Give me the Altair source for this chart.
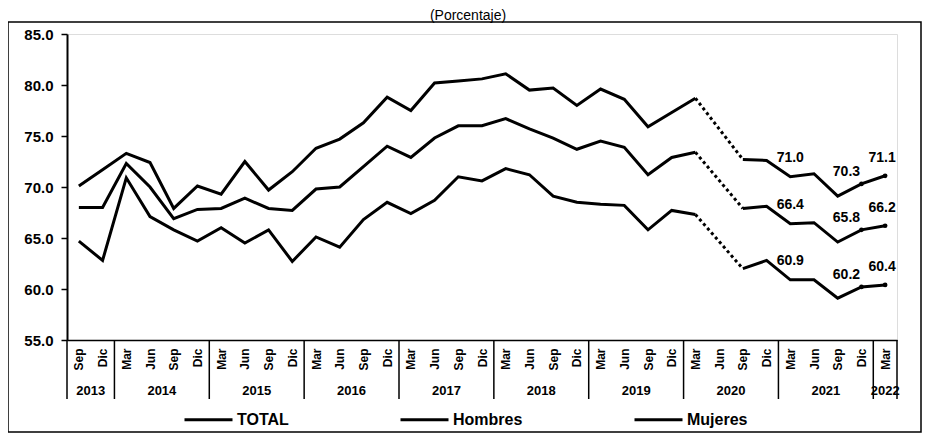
import json
import altair as alt
import pandas as pd

# ---- data ----
meses = ["Sep", "Dic",
         "Mar", "Jun", "Sep", "Dic",
         "Mar", "Jun", "Sep", "Dic",
         "Mar", "Jun", "Sep", "Dic",
         "Mar", "Jun", "Sep", "Dic",
         "Mar", "Jun", "Sep", "Dic",
         "Mar", "Jun", "Sep", "Dic",
         "Mar", "Jun", "Sep", "Dic",
         "Mar", "Jun", "Sep", "Dic",
         "Mar"]
anios = ["2013", "2013",
         "2014", "2014", "2014", "2014",
         "2015", "2015", "2015", "2015",
         "2016", "2016", "2016", "2016",
         "2017", "2017", "2017", "2017",
         "2018", "2018", "2018", "2018",
         "2019", "2019", "2019", "2019",
         "2020", "2020", "2020", "2020",
         "2021", "2021", "2021", "2021",
         "2022"]

total = [68.0, 68.0, 72.3, 70.0, 66.9, 67.8, 67.9, 68.9, 67.9, 67.7,
         69.8, 70.0, 72.0, 74.0, 72.9, 74.8, 76.0, 76.0, 76.7, 75.7,
         74.8, 73.7, 74.5, 73.9, 71.2, 72.9, 73.4, None, 67.9, 68.1,
         66.4, 66.5, 64.6, 65.8, 66.2]
hombres = [70.1, 71.7, 73.3, 72.4, 67.9, 70.1, 69.3, 72.5, 69.7, 71.5,
           73.8, 74.7, 76.3, 78.8, 77.5, 80.2, 80.4, 80.6, 81.1, 79.5,
           79.7, 78.0, 79.6, 78.6, 75.9, 77.3, 78.7, None, 72.7, 72.6,
           71.0, 71.3, 69.1, 70.3, 71.1]
mujeres = [64.7, 62.8, 70.9, 67.1, 65.8, 64.7, 66.0, 64.5, 65.8, 62.7,
           65.1, 64.1, 66.8, 68.5, 67.4, 68.7, 71.0, 70.6, 71.8, 71.2,
           69.1, 68.5, 68.3, 68.2, 65.8, 67.7, 67.3, None, 62.0, 62.8,
           60.9, 60.9, 59.1, 60.2, 60.4]

series_names = ["TOTAL", "Hombres", "Mujeres"]
gap_idx = 27          # Jun 2020: no data, bridged by a dotted segment
label_idx = [30, 33, 34]

# ---- tables built from the arrays ----
rows = []
for name, vals in zip(series_names, [total, hombres, mujeres]):
    for i, v in enumerate(vals):
        if v is None:
            continue
        rows.append({"serie": name, "idx": i, "valor": v,
                     "tramo": "a" if i < gap_idx else "b"})
df = pd.DataFrame(rows)

yr = pd.DataFrame({"anio": anios, "idx": range(len(anios))})
years_df = yr.groupby("anio", as_index=False)["idx"].mean()

seps = [-0.5] + [i - 0.5 for i in range(1, len(anios)) if anios[i] != anios[i - 1]] + [len(anios) - 0.5]
seps_df = pd.DataFrame({"pos": seps})

W, H = 830, 306
FONT = "Liberation Sans"
BLACK = "#000000"

xscale = alt.Scale(domain=[-0.5, len(meses) - 0.5], nice=False, zero=False)
yscale = alt.Scale(domain=[55, 85], nice=False, zero=False)

x_axis = alt.Axis(values=list(range(len(meses))), labelExpr=f"{json.dumps(meses)}[datum.value]",
                  labelAngle=270, ticks=False, grid=False, title=None,
                  labelFontSize=12, labelFontWeight="bold", labelPadding=8,
                  labelOverlap=False, labelFlush=False, labelBound=False,
                  domainColor=BLACK, domainWidth=1.5, labelColor=BLACK, labelFont=FONT)
y_axis = alt.Axis(values=[55, 60, 65, 70, 75, 80, 85], format=".1f", title=None, grid=False,
                  labelFontSize=15, labelFontWeight="bold", labelPadding=8, tickSize=6,
                  tickWidth=1.5, tickColor=BLACK, domainColor=BLACK, domainWidth=2,
                  labelColor=BLACK, labelFont=FONT)

color = alt.Color("serie:N", scale=alt.Scale(domain=series_names, range=[BLACK, BLACK, BLACK]),
                  legend=alt.Legend(title=None, orient="none", direction="horizontal",
                                    legendX=116, legendY=360, symbolType="stroke",
                                    symbolSize=2304, symbolStrokeWidth=3, symbolStrokeColor=BLACK,
                                    labelFontSize=16, labelFontWeight="bold", labelFont=FONT,
                                    labelColor=BLACK, labelOffset=3, columnPadding=105, padding=0))

XE = alt.X("idx:Q", scale=xscale, axis=x_axis)
YE = alt.Y("valor:Q", scale=yscale, axis=y_axis)

base = alt.Chart(df)

lines = base.mark_line(strokeWidth=3).encode(
    x=XE, y=YE, color=color, detail="tramo:N", order="idx:Q",
)

dotted = base.transform_filter(
    alt.FieldOneOfPredicate(field="idx", oneOf=[gap_idx - 1, gap_idx + 1])
).mark_line(strokeWidth=3, strokeDash=[3, 3], color=BLACK).encode(
    x=XE, y=YE, detail="serie:N",
)

markers = base.transform_filter(
    alt.FieldOneOfPredicate(field="idx", oneOf=[33, 34])
).mark_point(filled=True, size=22, color=BLACK, opacity=1).encode(
    x=XE, y=YE,
)

def label_layer(i, dx, dy):
    return base.transform_filter(alt.datum.idx == i).mark_text(
        dx=dx, dy=dy, font=FONT, fontSize=14, fontWeight="bold", color=BLACK
    ).encode(
        x=XE, y=YE,
        text=alt.Text("valor:Q", format=".1f"),
    )

labels = [label_layer(label_idx[0], 0, -19),
          label_layer(label_idx[1], -15, -12),
          label_layer(label_idx[2], -3, -18)]

years = alt.Chart(years_df).mark_text(font=FONT, fontSize=13, fontWeight="bold", color=BLACK,
                                      baseline="middle").encode(
    x=XE,
    y=alt.value(H + 51),
    text="anio:N",
)

separators = alt.Chart(seps_df).mark_rule(color=BLACK, strokeWidth=1.5).encode(
    x=alt.X("pos:Q", scale=xscale, axis=x_axis),
    y=alt.value(H),
    y2=alt.value(H + 59),
)

one = pd.DataFrame({"k": [0]})
frame = alt.Chart(one).mark_rect(fill="transparent", stroke=BLACK, strokeWidth=1.5).encode(
    x=alt.value(-59), x2=alt.value(854), y=alt.value(-12), y2=alt.value(398)
)
title = alt.Chart(one).mark_text(font=FONT, fontSize=14, color=BLACK, baseline="alphabetic").encode(
    x=alt.value(401), y=alt.value(-14), text=alt.value("(Porcentaje)")
)

chart = alt.layer(lines, frame, title, separators, years, dotted, markers, *labels).properties(
    width=W, height=H,
    autosize=alt.AutoSizeParams(type="none"),
    padding={"left": 59, "top": 26, "right": 25, "bottom": 93},
).configure_view(strokeWidth=0, stroke="transparent").configure(background="white")

chart.save("out.html", embed_options={"renderer": "svg", "actions": False})
